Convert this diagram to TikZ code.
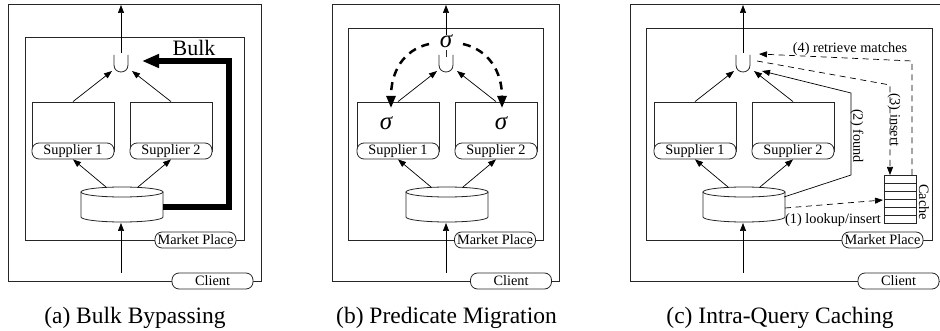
\documentclass[tikz,border=0pt]{standalone}
\usepackage{fontspec}
\setmainfont{Liberation Serif}
\usetikzlibrary{arrows.meta}
\tikzset{
  ln/.style={line width=0.8pt, draw=black!85},
  arr/.style={line width=0.7pt, draw=black, -{Triangle[length=8pt,width=6pt]}},
  lab/.style={font=\fontsize{14.3}{14}\selectfont, inner sep=0pt},
  tag/.style={draw=black!85, line width=0.8pt, fill=white, rounded corners=7pt, minimum height=16pt, inner sep=0pt, font=\fontsize{14.3}{14}\selectfont},
  supbox/.style={draw=black!85, line width=0.8pt, minimum width=82pt, minimum height=49pt, inner sep=0pt},
  captxt/.style={font=\fontsize{23.5}{24}\selectfont, anchor=base, inner sep=0pt},
  sig/.style={font=\fontsize{25}{25}\selectfont\itshape, inner sep=0pt},
  dsh/.style={dash pattern=on 6pt off 4.5pt},
}
\newcommand\mycore[2]{%
\begin{scope}[xshift=#2pt]
  % union symbol
  \draw[ln] (-7,55) -- (-7,65) .. controls (-7,74.3) and (7,74.3) .. (7,65) -- (7,55);
  \coordinate (#1ul) at (-9,71);
  \coordinate (#1ur) at (11,71);
  \coordinate (#1top) at (0,5);
  \coordinate (#1bot) at (0,273);
  \coordinate (#1cb) at (0,223);
  % suppliers
  \node[supbox] (#1s1) at (-48,126.5) {};
  \node[supbox] (#1s2) at (50,126.5) {};
  \node[tag, minimum width=82pt] (#1l1) at (-48,151) {Supplier 1};
  \node[tag, minimum width=82pt] (#1l2) at (50,151) {Supplier 2};
  % cylinder
  \coordinate (#1cyl) at (1,192);
  \draw[ln] (-40,192) -- (-40,217) arc[start angle=180, end angle=0, x radius=41, y radius=5] -- (42,192);
  \draw[ln] (#1cyl) ellipse [x radius=41, y radius=5];
  \coordinate (#1c1) at (-15,187);
  \coordinate (#1c2) at (17,187);
  % arrows
  \draw[arr] (#1c1) -- (#1l1.south);
  \draw[arr] (#1c2) -- (#1l2.south);
  \draw[arr] (#1s1.north) -- (#1ul);
  \draw[arr] (#1s2.north) -- (#1ur);
  \draw[arr] (#1bot) -- (#1cb);
\end{scope}}
\begin{document}
\begin{tikzpicture}[x=1pt, y=-1pt]
\clip (0,0) rectangle (940,331);
\fill[white] (0,0) rectangle (940,331);

% ---------------- (a) ----------------
\draw[ln] (8,4) rectangle (261,281);
\draw[ln] (25,37) rectangle (244,240);
\node[tag, minimum width=81pt] (amp) at (195.5,240) {Market Place};
\node[tag, minimum width=81pt] (acl) at (212.5,281) {Client};
\mycore{a}{121}
\coordinate (aut) at (121,53);
\draw[arr] (aut) -- (atop);
\coordinate (acr) at (163,207);
\coordinate (abk1) at (229,207);
\coordinate (abk2) at (229,61);
\coordinate (abk3) at (142,61);
\draw[line width=6pt, line join=miter, -{Triangle[length=17pt,width=13pt]}] (acr) -- (abk1) -- (abk2) -- (abk3);
\node[font=\fontsize{22}{22}\selectfont, inner sep=0pt] (abulk) at (194,48) {Bulk};
\node[captxt] (acap) at (135,323) {(a) Bulk Bypassing};

% ---------------- (b) ----------------
\draw[ln] (332,4) rectangle (559,281);
\draw[ln] (348,28) rectangle (543,240);
\node[tag, minimum width=81pt] (bmp) at (495,240) {Market Place};
\node[tag, minimum width=81pt] (bcl) at (511,281) {Client};
\mycore{b}{446}
\node[sig] (bsig) at (446,41) {σ};
\node[sig] (bsig1) at (386,123) {σ};
\node[sig] (bsig2) at (501,123) {σ};
\coordinate (bst) at (446,35);
\draw[arr] (bst) -- (btop);
\coordinate (bm1) at (446,50);
\coordinate (bm2) at (446,57);
\draw[ln] (bm1) -- (bm2);
\coordinate (bdl0) at (429,44);
\coordinate (bdl1) at (391,108);
\coordinate (bdr0) at (463,44);
\coordinate (bdr1) at (502,108);
\draw[line width=2.5pt, dash pattern=on 8pt off 6pt, -{Triangle[length=12pt,width=9pt]}] (bdl0) .. controls (403,50) and (391,72) .. (bdl1);
\draw[line width=2.5pt, dash pattern=on 8pt off 6pt, -{Triangle[length=12pt,width=9pt]}] (bdr0) .. controls (489,50) and (502,72) .. (bdr1);
\node[captxt] (bcap) at (446.5,323) {(b) Predicate Migration};

% ---------------- (c) ----------------
\draw[ln] (630,4) rectangle (946,281);
\draw[ln] (646,28) rectangle (932,240);
\node[tag, minimum width=81pt] (cmp) at (882.5,240) {Market Place};
\node[tag, minimum width=81pt] (ccl) at (898.5,281) {Client};
\mycore{c}{743}
\coordinate (cut) at (743,53);
\draw[arr] (cut) -- (ctop);
% cache
\node[draw=black!85, line width=0.8pt, minimum width=32pt, minimum height=48pt, inner sep=0pt] (cache) at (900,199) {};
\foreach \yy in {183,191,199,207,215} \draw[ln] (cache.west |- 0,\yy) -- (cache.east |- 0,\yy);
\node[lab, rotate=-90] (cachelab) at (924,202) {Cache};
% (1)
\coordinate (c1a) at (785,208);
\coordinate (c1b) at (883,200);
\draw[arr, dsh] (c1a) -- (c1b);
\node[lab] (c1lab) at (833,220) {(1) lookup/insert};
% (2)
\coordinate (c2a) at (784,197);
\coordinate (c2b) at (851,175);
\coordinate (c2c) at (851,93);
\coordinate (c2d) at (762,71);
\draw[arr] (c2a) -- (c2b) -- (c2c) -- (c2d);
\node[lab, rotate=-90] (c2lab) at (857,136) {(2) found};
% (3)
\coordinate (c3a) at (757,61);
\coordinate (c3b) at (890,85);
\coordinate (c3c) at (890,175);
\draw[arr, dsh] (c3a) -- (c3b) -- (c3c);
\node[lab, rotate=-90] (c3lab) at (894,120) {(3) insert};
% (4)
\coordinate (c4a) at (912,175);
\coordinate (c4b) at (912,61);
\coordinate (c4c) at (759,54);
\draw[arr, dsh] (c4a) -- (c4b) -- (c4c);
\node[lab] (c4lab) at (850,49) {(4) retrieve matches};
\node[captxt] (ccap) at (780,323) {(c) Intra-Query Caching};
\end{tikzpicture}
\end{document}
